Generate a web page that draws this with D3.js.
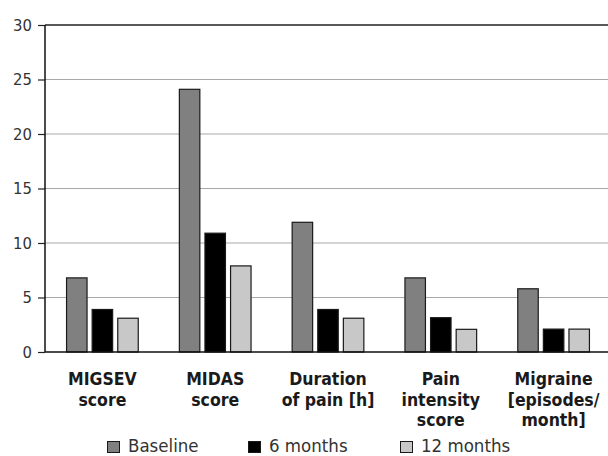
<!DOCTYPE html>
<html>
<head>
<meta charset="utf-8">
<script src="https://cdn.jsdelivr.net/npm/d3@7/dist/d3.min.js"></script>
<style>
  html, body { margin: 0; padding: 0; background: #fff; }
  svg { display: block; font-family: "DejaVu Sans Condensed", "DejaVu Sans", sans-serif; }
</style>
</head>
<body>
<svg id="chart" width="608" height="456"></svg>
<script>
// ---- data ----
const categories = ["MIGSEV score", "MIDAS score", "Duration of pain [h]", "Pain intensity score", "Migraine [episodes/month]"];
const categoryLines = [["MIGSEV", "score"], ["MIDAS", "score"], ["Duration", "of pain [h]"], ["Pain", "intensity", "score"], ["Migraine", "[episodes/", "month]"]];
const seriesNames = ["Baseline", "6 months", "12 months"];
const baseline = [6.8, 24.1, 11.9, 6.8, 5.8];
const months6 = [3.9, 10.9, 3.9, 3.15, 2.1];
const months12 = [3.1, 7.9, 3.1, 2.08, 2.1];
const yTicks = [0, 5, 10, 15, 20, 25, 30];
const seriesColors = ["#808080", "#000000", "#c8c8c8"];

const seriesValues = [baseline, months6, months12];

// ---- layout ----
const svg = d3.select("#chart");
const plotLeft = 45, plotTop = 25, plotBottom = 352, plotRight = 608;

const y = d3.scaleLinear().domain([0, 30]).range([plotBottom, plotTop]);
const x0 = d3.scaleBand().domain(categories).range([46, 610]).paddingInner(0).paddingOuter(0);
const x1 = d3.scaleBand().domain(seriesNames).range([0, x0.bandwidth()]).paddingInner(0.2).paddingOuter(0.803);
const color = d3.scaleOrdinal().domain(seriesNames).range(seriesColors);

// gridlines
svg.append("g").selectAll("line")
  .data(yTicks.filter(t => t > 0 && t < 30))
  .join("line")
  .attr("x1", plotLeft).attr("x2", plotRight)
  .attr("y1", d => y(d)).attr("y2", d => y(d))
  .attr("stroke", "#a8a8a8").attr("stroke-width", 1);

// top frame line
svg.append("line")
  .attr("x1", plotLeft).attr("x2", plotRight)
  .attr("y1", y(30)).attr("y2", y(30))
  .attr("stroke", "#222").attr("stroke-width", 1.5);

// bars
const rows = [];
categories.forEach((c, i) => {
  seriesNames.forEach((s, j) => rows.push({ cat: c, series: s, value: seriesValues[j][i] }));
});
svg.append("g").selectAll("rect")
  .data(rows)
  .join("rect")
  .attr("x", d => x0(d.cat) + x1(d.series))
  .attr("width", x1.bandwidth())
  .attr("y", d => y(d.value))
  .attr("height", d => y(0) - y(d.value))
  .attr("fill", d => color(d.series))
  .attr("stroke", "#1a1a1a")
  .attr("stroke-width", 1.2);

// y axis
const yAxis = d3.axisLeft(y).tickValues(yTicks).tickSize(7).tickPadding(6).tickFormat(d3.format("d"));
const gy = svg.append("g").attr("transform", `translate(${plotLeft},0)`).call(yAxis);
gy.select(".domain").remove();
gy.selectAll(".tick line").attr("stroke", "#222").attr("stroke-width", 1.2);
gy.selectAll(".tick text").attr("font-size", 16.5).attr("fill", "#333")
  .attr("font-family", "DejaVu Sans Condensed");

svg.append("line")
  .attr("x1", plotLeft).attr("x2", plotLeft)
  .attr("y1", y(30)).attr("y2", y(0))
  .attr("stroke", "#111").attr("stroke-width", 1.5);

// x baseline
svg.append("line")
  .attr("x1", plotLeft).attr("x2", plotRight)
  .attr("y1", y(0)).attr("y2", y(0))
  .attr("stroke", "#111").attr("stroke-width", 1.5);

// category labels
const lbl = svg.append("g").selectAll("text")
  .data(categories)
  .join("text")
  .attr("x", d => x0(d) + x0.bandwidth() / 2)
  .attr("y", 385)
  .attr("text-anchor", "middle")
  .attr("font-size", 17.5)
  .attr("font-weight", "bold")
  .attr("fill", "#1a1a1a");
lbl.each(function (d, i) {
  const t = d3.select(this);
  categoryLines[i].forEach((line, k) => {
    t.append("tspan").attr("x", x0(d) + x0.bandwidth() / 2).attr("dy", k === 0 ? 0 : 20.6).text(line);
  });
});

// legend
const legendX = [107, 248, 400];
const lg = svg.append("g").selectAll("g")
  .data(seriesNames)
  .join("g")
  .attr("transform", (d, i) => `translate(${legendX[i]},0)`);
lg.append("rect")
  .attr("x", 0.5).attr("y", 441.5).attr("width", 12).attr("height", 11)
  .attr("fill", d => color(d)).attr("stroke", "#1a1a1a").attr("stroke-width", 1);
lg.append("text")
  .attr("x", 21).attr("y", 451.5)
  .attr("font-size", 18.5).attr("fill", "#333")
  .text(d => d);
</script>
</body>
</html>
